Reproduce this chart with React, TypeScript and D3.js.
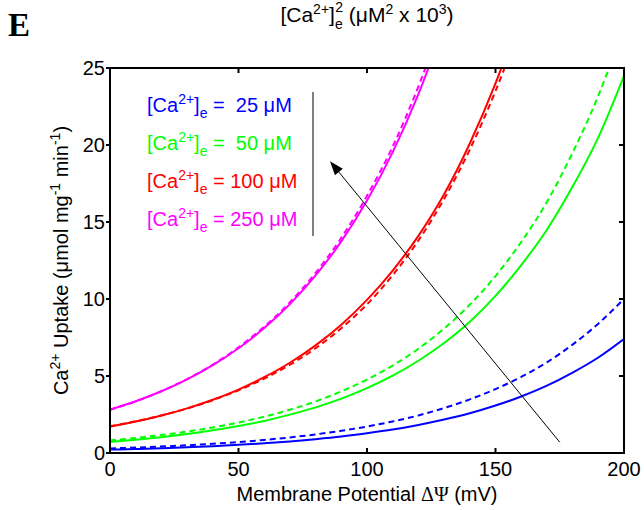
import React from 'react';
import * as d3 from 'd3';

const potentials = [0, 10, 20, 30, 40, 50, 60, 70, 80, 90, 100, 110, 120, 130, 140, 150, 160, 170, 180, 190, 200];

const blueSolid = [0.22, 0.26, 0.31, 0.37, 0.44, 0.53, 0.63, 0.75, 0.9, 1.07, 1.28, 1.52, 1.82, 2.17, 2.58, 3.08, 3.67, 4.37, 5.22, 6.2, 7.4];
const blueDashed = [0.3, 0.35, 0.42, 0.5, 0.6, 0.71, 0.85, 1.01, 1.21, 1.44, 1.72, 2.05, 2.44, 2.92, 3.48, 4.15, 4.94, 5.89, 7.04, 8.4, 10.0];
const greenSolid = [0.72, 0.86, 1.03, 1.23, 1.47, 1.75, 2.08, 2.49, 2.96, 3.53, 4.21, 5.02, 5.99, 7.14, 8.52, 10.2, 12.2, 14.5, 17.3, 20.5, 24.5];
const greenDashed = [0.82, 0.98, 1.17, 1.39, 1.66, 1.98, 2.36, 2.81, 3.35, 4.0, 4.77, 5.68, 6.77, 8.08, 9.63, 11.49, 13.7, 16.3, 19.5, 23.2, 27.7];
const redSolid = [1.71, 2.04, 2.43, 2.9, 3.46, 4.12, 4.92, 5.86, 6.99, 8.33, 9.94, 11.85, 14.1, 16.8, 20.1, 24.0, 28.6];
const redDashed = [1.74, 2.06, 2.44, 2.89, 3.43, 4.07, 4.83, 5.73, 6.8, 8.1, 9.65, 11.55, 13.8, 16.5, 19.7, 23.5, 27.9];
const magentaSolid = [2.82, 3.36, 4.01, 4.78, 5.7, 6.8, 8.11, 9.67, 11.53, 13.74, 16.39, 19.54, 23.3, 27.8];
const magentaDashed = [2.8, 3.35, 4.01, 4.8, 5.74, 6.86, 8.2, 9.79, 11.7, 13.97, 16.7, 19.9, 23.8, 28.4];

const xTicks = [0, 50, 100, 150, 200];
const yTicks = [0, 5, 10, 15, 20, 25];
const legendValues = ['=  25', '=  50', '= 100', '= 250'];
const legendColors = ['#0000ff', '#00ff00', '#ff0000', '#ff00ff'];

const FONT = '"Liberation Sans", Arial, Helvetica, sans-serif';

export default function App() {
  const x = d3.scaleLinear().domain([0, 200]).range([110, 624]);
  const y = d3.scaleLinear().domain([0, 25]).range([453, 68]);
  const line = d3
    .line<[number, number]>()
    .x((d) => x(d[0]))
    .y((d) => y(d[1]))
    .curve(d3.curveMonotoneX);

  const series = [
    { values: blueSolid, color: legendColors[0], dash: undefined },
    { values: blueDashed, color: legendColors[0], dash: '6,4' },
    { values: greenSolid, color: legendColors[1], dash: undefined },
    { values: greenDashed, color: legendColors[1], dash: '6,4' },
    { values: redSolid, color: legendColors[2], dash: undefined },
    { values: redDashed, color: legendColors[2], dash: '6,4' },
    { values: magentaSolid, color: legendColors[3], dash: undefined },
    { values: magentaDashed, color: legendColors[3], dash: '6,4' },
  ];

  const [x0, x1] = x.range();
  const [yb, yt] = y.range();

  // arrow (data coords)
  const ax1 = x(175), ay1 = y(0.7);
  const ax2 = x(85.6), ay2 = y(18.95);
  const ang = Math.atan2(ay2 - ay1, ax2 - ax1);
  const hl = 14, hw = 5;
  const bx = ax2 - hl * Math.cos(ang), by = ay2 - hl * Math.sin(ang);
  const head = [
    [ax2, ay2],
    [bx + hw * Math.sin(ang), by - hw * Math.cos(ang)],
    [bx - hw * Math.sin(ang), by + hw * Math.cos(ang)],
  ]
    .map((p) => p.join(','))
    .join(' ');

  return (
    <svg
      width={644}
      height={510}
      style={{ position: 'absolute', left: 0, top: 0, background: '#fff' }}
      fontFamily={FONT}
    >
      <defs>
        <clipPath id="plotClip">
          <rect x={x0} y={yt} width={x1 - x0} height={yb - yt} />
        </clipPath>
      </defs>
      <rect x={0} y={0} width={644} height={510} fill="#fff" />

      {/* panel letter */}
      <text x={8} y={36} fontFamily='"Liberation Serif", "Times New Roman", serif' fontWeight="bold" fontSize={33}>
        E
      </text>

      {/* top title */}
      <text x={367} y={22} fontSize={21} textAnchor="middle" style={{ whiteSpace: 'pre' }}>
        [Ca
        <tspan fontSize={14} dy={-8}>2+</tspan>
        <tspan fontSize={21} dy={8}>]</tspan>
        <tspan fontSize={14} dy={7}>e</tspan>
        <tspan fontSize={14} dx={-7.5} dy={-17}>2</tspan>
        <tspan fontSize={21} dy={10}> (μM</tspan>
        <tspan fontSize={14} dy={-8}>2</tspan>
        <tspan fontSize={21} dy={8}> x 10</tspan>
        <tspan fontSize={14} dy={-8}>3</tspan>
        <tspan fontSize={21} dy={8}>)</tspan>
      </text>

      {/* curves */}
      <g clipPath="url(#plotClip)">
        {series.map((s, i) => (
          <path
            key={i}
            d={line(s.values.map((v, j) => [potentials[j], v] as [number, number])) || ''}
            fill="none"
            stroke={s.color}
            strokeWidth={2}
            strokeDasharray={s.dash}
          />
        ))}
      </g>

      {/* axes box */}
      <rect x={x0} y={yt} width={x1 - x0} height={yb - yt} fill="none" stroke="#000" strokeWidth={2} />

      {/* x ticks */}
      {xTicks.map((t) => (
        <g key={'xt' + t}>
          <line x1={x(t)} x2={x(t)} y1={yb} y2={yb - 5} stroke="#000" strokeWidth={2} />
          <line x1={x(t)} x2={x(t)} y1={yt} y2={yt + 5} stroke="#000" strokeWidth={2} />
          <text x={x(t)} y={476} fontSize={20} textAnchor="middle">
            {t}
          </text>
        </g>
      ))}

      {/* y ticks */}
      {yTicks.map((t) => (
        <g key={'yt' + t}>
          <line x1={x0} x2={x0 - 4} y1={y(t)} y2={y(t)} stroke="#000" strokeWidth={2} />
          <line x1={x1} x2={x1 - 5} y1={y(t)} y2={y(t)} stroke="#000" strokeWidth={2} />
          <text x={105} y={y(t) + 7} fontSize={20} textAnchor="end">
            {t}
          </text>
        </g>
      ))}

      {/* x axis label */}
      <text x={367} y={501} fontSize={20} textAnchor="middle" style={{ whiteSpace: 'pre' }}>
        Membrane Potential <tspan fontFamily='"Liberation Serif", serif'>ΔΨ</tspan> (mV)
      </text>

      {/* y axis label */}
      <text
        transform={`translate(68, ${(yt + yb) / 2}) rotate(-90)`}
        fontSize={20}
        textAnchor="middle"
        style={{ whiteSpace: 'pre' }}
      >
        Ca
        <tspan fontSize={14} dy={-8}>2+</tspan>
        <tspan fontSize={20} dy={8}> Uptake (μmol mg</tspan>
        <tspan fontSize={14} dy={-8}>-1</tspan>
        <tspan fontSize={20} dy={8}> min</tspan>
        <tspan fontSize={14} dy={-8}>-1</tspan>
        <tspan fontSize={20} dy={8}>)</tspan>
      </text>

      {/* legend */}
      {legendValues.map((v, i) => (
        <text key={'lg' + i} x={147} y={112 + i * 38} fontSize={20} fill={legendColors[i]} style={{ whiteSpace: 'pre' }}>
          [Ca
          <tspan fontSize={14} dy={-8}>2+</tspan>
          <tspan fontSize={20} dy={8}>]</tspan>
          <tspan fontSize={14} dy={6}>e</tspan>
          <tspan fontSize={20} dy={-6}>{' ' + v + ' μM'}</tspan>
        </text>
      ))}
      <line x1={313} x2={313} y1={92} y2={236} stroke="#000" strokeWidth={1} />

      {/* arrow */}
      <line x1={ax1} y1={ay1} x2={bx} y2={by} stroke="#000" strokeWidth={1} />
      <polygon points={head} fill="#000" />
    </svg>
  );
}
